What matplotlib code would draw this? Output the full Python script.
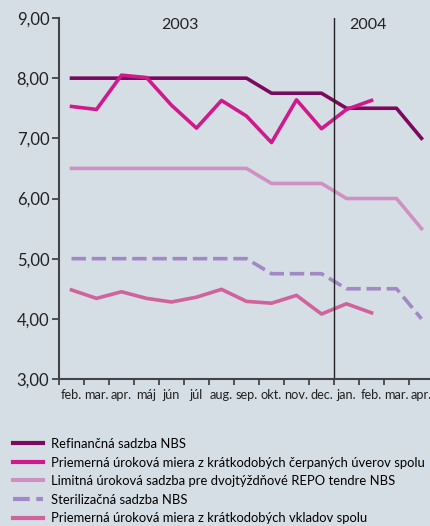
import matplotlib
matplotlib.use("Agg")
import matplotlib.pyplot as plt

plt.rcParams["font.family"] = ["Lato", "DejaVu Sans"]

# months feb 2003 .. apr 2004
months = ["feb.", "mar.", "apr.", "máj", "jún", "júl", "aug.", "sep.",
          "okt.", "nov.", "dec.", "jan.", "feb.", "mar.", "apr."]

refinancna = [8.0, 8.0, 8.0, 8.0, 8.0, 8.0, 8.0, 8.0,
              7.75, 7.75, 7.75, 7.5, 7.5, 7.5, 7.0]
uvery = [7.53, 7.48, 8.05, 8.01, 7.55, 7.17, 7.63, 7.37,
         6.93, 7.64, 7.16, 7.48, 7.63]
limitna = [6.5, 6.5, 6.5, 6.5, 6.5, 6.5, 6.5, 6.5,
           6.25, 6.25, 6.25, 6.0, 6.0, 6.0, 5.5]
sterilizacna = [5.0, 5.0, 5.0, 5.0, 5.0, 5.0, 5.0, 5.0,
                4.75, 4.75, 4.75, 4.5, 4.5, 4.5, 4.0]
vklady = [4.48, 4.34, 4.45, 4.34, 4.28, 4.36, 4.49, 4.29,
          4.26, 4.39, 4.08, 4.25, 4.10]

labels = [
    "Refinančná sadzba NBS",
    "Priemerná úroková miera z krátkodobých čerpaných úverov spolu",
    "Limitná úroková sadzba pre dvojtýždňové REPO tendre NBS",
    "Sterilizačná sadzba NBS",
    "Priemerná úroková miera z krátkodobých vkladov spolu",
]
colors = ["#7b0a5e", "#d01a8c", "#d090c2", "#a288c4", "#d0629c"]

bg = "#d6dee5"
fig = plt.figure(figsize=(4.30, 5.26), dpi=100, facecolor=bg)
ax = fig.add_axes([59 / 430, 147 / 526, 375 / 430, 361 / 526])
ax.set_facecolor(bg)

x_full = [i + 0.5 for i in range(len(months))]
lw = 2.6
ax.plot(x_full, refinancna, color=colors[0], lw=lw, label=labels[0])
ax.plot(x_full[:len(uvery)], uvery, color=colors[1], lw=lw, label=labels[1])
ax.plot(x_full, limitna, color=colors[2], lw=lw, label=labels[2])
ax.plot(x_full, sterilizacna, color=colors[3], lw=lw, dashes=(4, 1.6),
        label=labels[3])
ax.plot(x_full[:len(vklady)], vklady, color=colors[4], lw=lw, label=labels[4])

# year divider
ax.plot([11, 11], [3, 9], color="#222222", lw=1.0)
ax.text(4.84, 8.88, "2003", ha="center", va="center", fontsize=11.5, color="#222222")
ax.text(12.36, 8.88, "2004", ha="center", va="center", fontsize=11.5, color="#222222")

ax.set_xlim(0, 15)
ax.set_ylim(3, 9)
ax.set_yticks(range(3, 10))
ax.set_yticklabels([f"{v},00" for v in range(3, 10)], fontsize=12, color="#222222")
ax.set_xticks(range(0, 16))
ax.set_xticklabels([])
ax.set_xticks(x_full, minor=True)
ax.set_xticklabels(months, minor=True, fontsize=9.2, color="#222222")
ax.tick_params(axis="x", which="minor", length=0, pad=7)
ax.tick_params(axis="x", which="major", length=4, width=1.3, color="#444444")
ax.tick_params(axis="y", length=5, width=1.3, color="#444444", pad=2)

for s in ["top", "right"]:
    ax.spines[s].set_visible(False)
for s in ["left", "bottom"]:
    ax.spines[s].set_color("#444444")
    ax.spines[s].set_linewidth(1.5)

leg = fig.legend(loc="upper left", bbox_to_anchor=(13 / 430, 1 - 438 / 526),
                 frameon=False, fontsize=9.4, handlelength=2.3, handletextpad=0.6,
                 labelspacing=0.5, borderpad=0, borderaxespad=0)
for h in leg.get_lines():
    h.set_linewidth(3)

fig.savefig("out.png", dpi=100, facecolor=bg)
